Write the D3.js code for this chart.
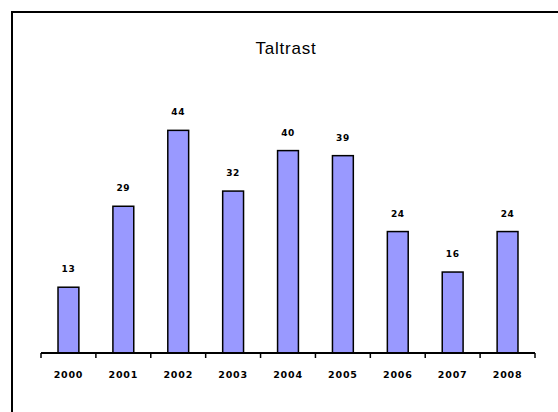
<!DOCTYPE html>
<html>
<head>
<meta charset="utf-8">
<script src="https://cdn.jsdelivr.net/npm/d3@7"></script>
<style>
  body { margin: 0; background: #fff; }
  svg { display: block; }
</style>
</head>
<body>
<div id="chart"></div>
<script>
// 数据
const years = ['2000', '2001', '2002', '2003', '2004', '2005', '2006', '2007', '2008'];
const values = [13, 29, 44, 32, 40, 39, 24, 16, 24];
const title = 'Taltrast';

const W = 558, H = 412;

const svg = d3.select('#chart')
  .append('svg')
  .attr('width', W)
  .attr('height', H);

// 外框
svg.append('rect')
  .attr('x', 12)
  .attr('y', 12)
  .attr('width', W)
  .attr('height', H)
  .attr('fill', '#fff')
  .attr('stroke', '#000')
  .attr('stroke-width', 2);

// 比例尺
const x = d3.scaleBand()
  .domain(years)
  .range([41, 535])
  .paddingInner(0.62)
  .paddingOuter(0.31);

const y = d3.scaleLinear()
  .domain([0, 50])
  .range([353, 100]);

// 标题
svg.append('text')
  .attr('x', 286)
  .attr('y', 54)
  .attr('text-anchor', 'middle')
  .style('font-family', 'Liberation Sans, Arial, sans-serif')
  .style('font-size', '17px')
  .style('letter-spacing', '0.8px')
  .text(title);

// 柱子
svg.selectAll('rect.bar')
  .data(values)
  .enter()
  .append('rect')
    .attr('class', 'bar')
    .attr('x', (d, i) => x(years[i]))
    .attr('y', d => y(d))
    .attr('width', x.bandwidth())
    .attr('height', d => y(0) - y(d))
    .attr('fill', '#9999ff')
    .attr('stroke', '#000')
    .attr('stroke-width', 1.5);

// 数值标签
svg.selectAll('text.val')
  .data(values)
  .enter()
  .append('text')
    .attr('class', 'val')
    .attr('x', (d, i) => x(years[i]) + x.bandwidth() / 2)
    .attr('y', d => y(d) - 15)
    .attr('text-anchor', 'middle')
    .style('font-family', 'DejaVu Sans, sans-serif')
    .style('font-weight', 'bold')
    .style('font-size', '9px')
    .style('letter-spacing', '0.6px')
    .text(d => d);

// x 轴
const axis = svg.append('g')
  .attr('transform', `translate(0,${y(0)})`)
  .call(d3.axisBottom(x).tickSize(0).tickPadding(18));

axis.select('.domain')
  .attr('stroke', '#000')
  .attr('stroke-width', 2)
  .attr('d', `M${x.range()[0]},0H${x.range()[1]}`);

axis.selectAll('text')
  .style('font-family', 'DejaVu Sans, sans-serif')
  .style('font-weight', 'bold')
  .style('font-size', '9.5px')
  .style('letter-spacing', '0.8px')
  .attr('fill', '#000');

// 分类之间的刻度
const step = x.step();
const tickPos = d3.range(years.length + 1).map(i => x.range()[0] + i * step);
axis.selectAll('line.sep')
  .data(tickPos)
  .enter()
  .append('line')
    .attr('class', 'sep')
    .attr('x1', d => d)
    .attr('x2', d => d)
    .attr('y1', 0)
    .attr('y2', 5)
    .attr('stroke', '#000')
    .attr('stroke-width', 1.5);
</script>
</body>
</html>
